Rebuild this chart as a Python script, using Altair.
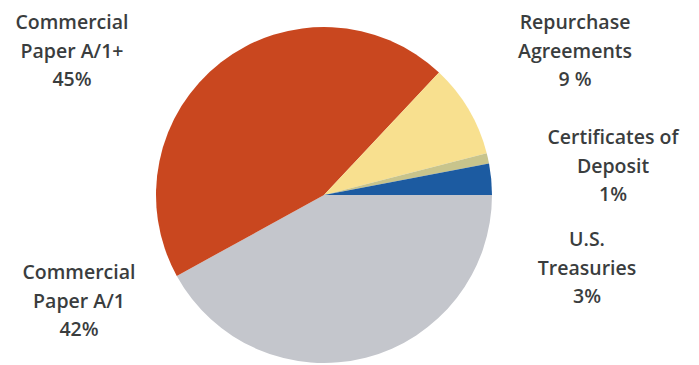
import altair as alt
import pandas as pd
import math

# Data
categories = ["Commercial Paper A/1", "Commercial Paper A/1+", "Repurchase Agreements",
              "Certificates of Deposit", "U.S. Treasuries"]
values = [42, 45, 9, 1, 3]
label_texts = ["Commercial\nPaper A/1\n42%", "Commercial\nPaper A/1+\n45%",
               "Repurchase\nAgreements\n9 %", "Certificates of\nDeposit\n1%",
               "U.S.\nTreasuries\n3%"]

# Styles / positions (kept separate from data)
colors = ["#c4c6cc", "#c9471f", "#f8e08f", "#c8c48c", "#1c5ba1"]
label_x = [79, 72, 575, 613, 587]
label_y = [273, 23, 23, 138, 240]

df = pd.DataFrame({"category": categories, "value": values, "order": list(range(len(values)))})
labels = pd.DataFrame({"text": label_texts, "lx": label_x, "ly": label_y})

pie = alt.Chart(df).mark_arc(radius=168, stroke=None).encode(
    theta=alt.Theta("value:Q", stack=True,
                    scale=alt.Scale(range=[math.pi / 2, math.pi / 2 + 2 * math.pi])),
    color=alt.Color("category:N", scale=alt.Scale(domain=categories, range=colors), legend=None),
    order=alt.Order("order:Q"),
    x=alt.value(324),
    y=alt.value(195),
)

text = alt.Chart(labels).mark_text(
    lineBreak="\n", lineHeight=28.5, fontSize=19.5, font="Open Sans", fontWeight=600,
    color="#3a3d3e", align="center", baseline="middle"
).encode(
    x=alt.X("lx:Q", scale=None, axis=None),
    y=alt.Y("ly:Q", scale=None, axis=None),
    text="text:N",
)

chart = alt.layer(pie, text).properties(
    width=699, height=365, padding=0, autosize=alt.AutoSizeParams(type="none"),
    background="white"
).configure_view(stroke=None)

chart.save("out.html", embed_options={"renderer": "svg", "actions": False})
